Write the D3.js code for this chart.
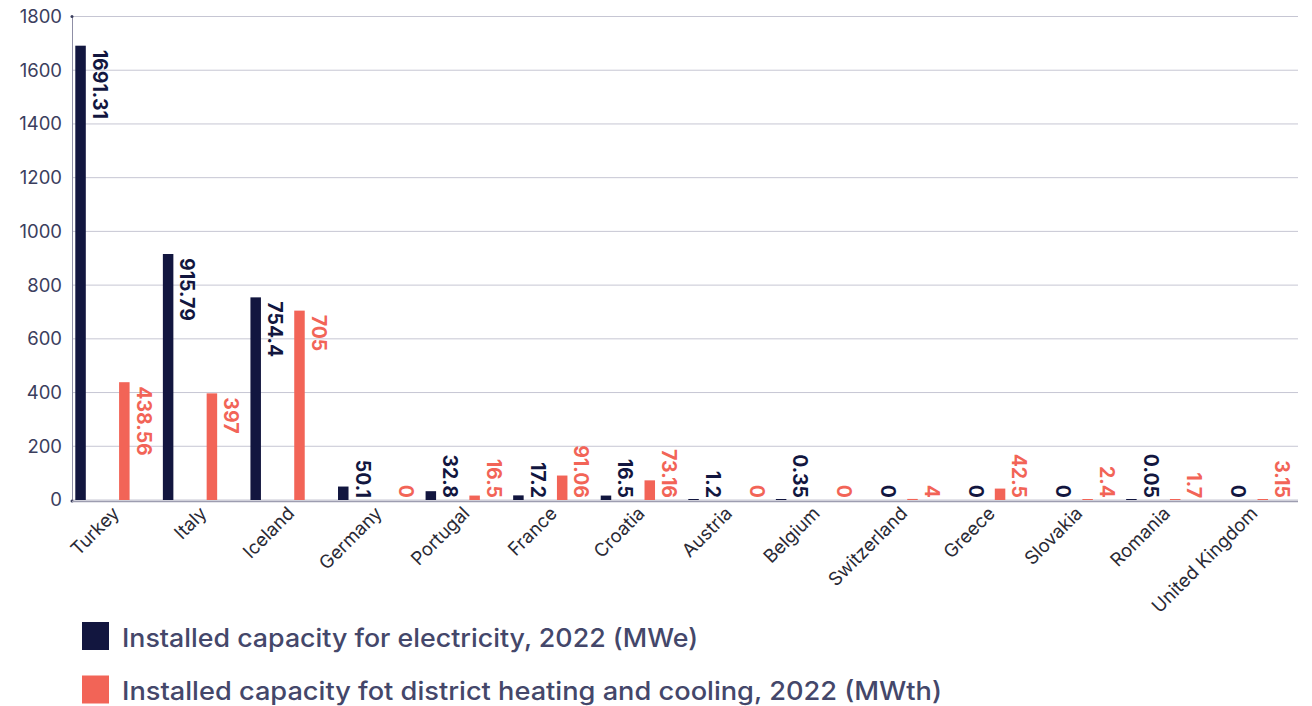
<!DOCTYPE html>
<html><head><meta charset="utf-8">
<script src="https://cdn.jsdelivr.net/npm/d3@7"></script>
<style>body{margin:0;background:#fff}svg{display:block;font-family:Inter, "Noto Sans", sans-serif}</style>
</head><body><svg id="c" width="1312" height="706"></svg>
<script>
const categories = ["Turkey","Italy","Iceland","Germany","Portugal","France","Croatia","Austria","Belgium","Switzerland","Greece","Slovakia","Romania","United Kingdom"];
const electricity = [1691.31,915.79,754.4,50.1,32.8,17.2,16.5,1.2,0.35,0,0,0,0.05,0];
const heating = [438.56,397,705,0,16.5,91.06,73.16,0,0,4,42.5,2.4,1.7,3.15];
const seriesNames = ["Installed capacity for electricity, 2022 (MWe)","Installed capacity fot district heating and cooling, 2022 (MWth)"];
const yTicks = [0,200,400,600,800,1000,1200,1400,1600,1800];
const colors = ["#12163f","#f26457"];

const svg = d3.select("#c");
const mLeft = 72, mRight = 1298, mTop = 16.5, mBottom = 500;
const x = d3.scaleBand().domain(categories).range([mLeft, mRight]).padding(0);
const sub = d3.scaleBand().domain([0,1]).range([0, x.bandwidth()]).padding(0);
const y = d3.scaleLinear().domain([0,1800]).range([mBottom, mTop]);
const barW = 10.5, barOff = 3.3;

// grid
svg.append("g").selectAll("line").data(yTicks).join("line")
  .attr("x1", mLeft).attr("x2", 1298).attr("y1", d=>y(d)).attr("y2", d=>y(d))
  .attr("stroke", "#c6c6d3").attr("stroke-width", 1);

// y axis
const ya = svg.append("g").attr("transform", `translate(${mLeft},0)`)
  .call(d3.axisLeft(y).tickValues(yTicks).tickFormat(d3.format("d")).tickSize(0).tickPadding(10));
ya.select(".domain").attr("stroke", "#8f8fa6");
ya.selectAll("text").attr("font-size", 18.5).attr("fill", "#3b3e5e").attr("font-family", "Inter, sans-serif");
svg.append("circle").attr("cx", mLeft).attr("cy", y(1800)).attr("r", 1.5).attr("fill", "#3b3e5e");
svg.append("circle").attr("cx", mLeft).attr("cy", y(0)+1).attr("r", 1.5).attr("fill", "#3b3e5e");

// x axis line
svg.append("line").attr("x1", mLeft).attr("x2", 1298).attr("y1", mBottom+1.5).attr("y2", mBottom+1.5)
  .attr("stroke", "#9d9db0").attr("stroke-width", 1.5);

const series = [electricity, heating];
series.forEach((vals, si) => {
  const g = svg.append("g");
  const data = categories.map((c,i)=>({c, v: vals[i]}));
  g.selectAll("rect").data(data).join("rect")
    .attr("x", d => x(d.c) + sub(si) + barOff)
    .attr("width", barW)
    .attr("y", d => d.v > 0 ? Math.min(y(d.v), mBottom - 1) : mBottom)
    .attr("height", d => d.v > 0 ? Math.max(1, mBottom - y(d.v)) : 0)
    .attr("fill", colors[si]);
  const labels = g.selectAll("text").data(data).join("text")
    .text(d => String(d.v))
    .attr("font-size", 19.5).attr("font-weight", 700)
    .attr("fill", colors[si])
    .attr("font-family", "Inter, sans-serif");
  labels.each(function(d){
    const len = this.getComputedTextLength();
    const bx = x(d.c) + sub(si) + barOff + barW + 7;
    let ys = y(d.v) + 4;
    if (ys + len > mBottom - 2) ys = mBottom - 2 - len;
    d3.select(this).attr("transform", `translate(${bx},${ys}) rotate(90)`);
  });
});

// x labels
svg.append("g").selectAll("text").data(categories).join("text")
  .text(d=>d)
  .attr("text-anchor", "end")
  .attr("font-size", 18.5).attr("fill", "#2a2a35")
  .attr("dy", "0.35em")
  .attr("transform", d => `translate(${x(d)+x.bandwidth()/2},${510}) rotate(-45)`);

// legend
const lg = svg.append("g");
const legendW = [576, 820];
seriesNames.forEach((n,i)=>{
  const yy = 622 + i*53.5;
  lg.append("rect").attr("x", 82).attr("y", yy).attr("width", 27).attr("height", 28).attr("fill", colors[i]);
  lg.append("text").attr("x", 122).attr("y", yy+24.5)
    .attr("font-size", 25.5).attr("fill", "#44476a").attr("font-weight", 500)
    .attr("textLength", legendW[i]).attr("lengthAdjust", "spacingAndGlyphs").text(n);
});
</script></body></html>
